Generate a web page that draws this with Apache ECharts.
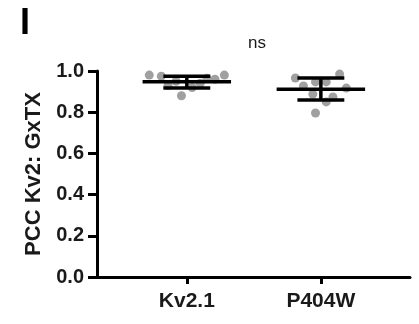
<!DOCTYPE html>
<html><head><meta charset="utf-8">
<script src="https://cdn.jsdelivr.net/npm/echarts@6/dist/echarts.min.js"></script>
<style>html,body{margin:0;padding:0;background:#fff}#c{width:419px;height:324px}</style>
</head><body><div id="c"></div>
<script>
const categories = ['Kv2.1', 'P404W'];
const yTicks = [0.0, 0.2, 0.4, 0.6, 0.8, 1.0];
// individual points: values and horizontal jitter (category units)
const kvValues  = [0.98, 0.975, 0.98, 0.88, 0.93, 0.92, 0.965, 0.95, 0.94, 0.96];
const kvJitter  = [-0.28, -0.19, 0.28, -0.04, -0.14, 0.04, 0.15, -0.08, 0.10, 0.21];
const p4Values  = [0.966, 0.985, 0.927, 0.947, 0.947, 0.917, 0.888, 0.874, 0.85, 0.796];
const p4Jitter  = [-0.19, 0.14, -0.13, -0.04, 0.04, 0.19, -0.06, 0.09, 0.04, -0.04];
// summary: mean, upper, lower
const means  = [0.948, 0.912];
const uppers = [0.975, 0.966];
const lowers = [0.917, 0.859];
const sigText = 'ns';
const panelLabel = 'I';
const yName = 'PCC Kv2: GxTX';

const FONT = 'Liberation Sans, Arial, sans-serif';
const pts = [];
kvValues.forEach((v, i) => pts.push([0 + kvJitter[i], v]));
p4Values.forEach((v, i) => pts.push([1 + p4Jitter[i], v]));
const summary = categories.map((c, i) => [i, means[i], uppers[i], lowers[i]]);

const chart = echarts.init(document.getElementById('c'));
chart.setOption({
  animation: false,
  grid: {left: 97, right: 9, top: 71, bottom: 47},
  xAxis: {
    type: 'value', min: -0.67, max: 1.665,
    splitLine: {show: false},
    axisLine: {show: true, onZero: false, lineStyle: {color: '#000', width: 3}},
    axisTick: {show: true, customValues: [0, 1], length: 7, lineStyle: {color: '#000', width: 3}},
    axisLabel: {customValues: [0, 1], formatter: v => categories[Math.round(v)], margin: 14,
      fontFamily: FONT, fontWeight: 'bold', fontSize: 21, color: '#1a1a1a'}
  },
  yAxis: {
    type: 'value', min: 0, max: 1, interval: 0.2,
    name: yName, nameLocation: 'middle', nameGap: 50,
    nameTextStyle: {fontFamily: FONT, fontWeight: 'bold', fontSize: 22, color: '#1a1a1a'},
    splitLine: {show: false},
    axisLine: {show: true, onZero: false, lineStyle: {color: '#000', width: 3}},
    axisTick: {show: true, length: 9, lineStyle: {color: '#000', width: 3}},
    axisLabel: {formatter: v => v.toFixed(1), margin: 13, padding: [0, 0, 3, 0],
      fontFamily: FONT, fontWeight: 'bold', fontSize: 20, color: '#1a1a1a'}
  },
  graphic: [
    {type: 'text', left: 20, top: 6, style: {text: panelLabel, font: 'bold 36px ' + FONT, fill: '#000'}},
    {type: 'text', x: 257, y: 43, style: {text: sigText, font: '17px ' + FONT, fill: '#1a1a1a', align: 'center', verticalAlign: 'middle'}}
  ],
  series: [
    {type: 'scatter', data: pts, symbolSize: 9, itemStyle: {color: '#a0a0a0', opacity: 1}, z: 2},
    {type: 'custom', data: summary, z: 5,
      renderItem: function (params, api) {
        const x = api.value(0);
        const m = api.coord([x, api.value(1)]);
        const u = api.coord([x, api.value(2)]);
        const l = api.coord([x, api.value(3)]);
        const unit = api.size([1, 0])[0];
        const mh = unit * 0.33, ch = unit * 0.175;
        const st = {stroke: '#000', lineWidth: 3.5};
        return {type: 'group', children: [
          {type: 'line', shape: {x1: m[0] - mh, y1: m[1], x2: m[0] + mh, y2: m[1]}, style: st},
          {type: 'line', shape: {x1: u[0], y1: u[1], x2: l[0], y2: l[1]}, style: st},
          {type: 'line', shape: {x1: u[0] - ch, y1: u[1], x2: u[0] + ch, y2: u[1]}, style: st},
          {type: 'line', shape: {x1: l[0] - ch, y1: l[1], x2: l[0] + ch, y2: l[1]}, style: st}
        ]};
      }
    }
  ]
});
</script></body></html>
